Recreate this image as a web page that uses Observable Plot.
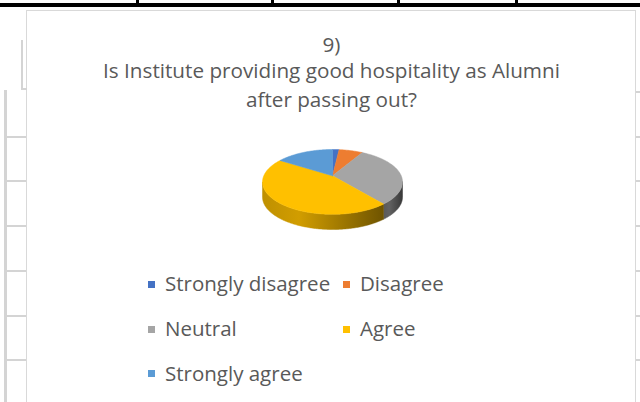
<!DOCTYPE html>
<html>
<head>
<meta charset="utf-8">
<script src="https://cdn.jsdelivr.net/npm/d3@7"></script>
<script src="https://cdn.jsdelivr.net/npm/@observablehq/plot@0.6"></script>
<style>
  html, body { margin: 0; padding: 0; background: #fff; }
  #root { position: relative; width: 640px; height: 402px; overflow: hidden; background: #fff;
          font-family: "Open Sans", "Noto Sans", sans-serif; color: #595959; }
  .abs { position: absolute; }
  .ln { position: absolute; background: #d4d4d4; }
  .title { position: absolute; left: 26px; width: 611px; text-align: center; font-size: 20.7px; line-height: 1; white-space: nowrap; }
  .leg { position: absolute; font-size: 20.5px; line-height: 1; white-space: nowrap; }
  .mk { position: absolute; width: 7px; height: 7px; }
  #pie { position: absolute; left: 0; top: 140px; }
</style>
</head>
<body>
<div id="root">
  <!-- spreadsheet decoration -->
  <div class="abs" style="left:0;top:3px;width:640px;height:4px;background:#000"></div>
  <div class="abs" style="left:136px;top:0;width:3px;height:5px;background:#000"></div>
  <div class="abs" style="left:271px;top:0;width:3px;height:5px;background:#000"></div>
  <div class="abs" style="left:397px;top:0;width:3px;height:5px;background:#000"></div>
  <div class="abs" style="left:515px;top:0;width:3px;height:5px;background:#000"></div>
  <div class="abs" style="left:26px;top:10px;width:610px;height:420px;border:1.5px solid #d9d9d9;box-sizing:border-box"></div>
  <div class="ln" style="left:21px;top:40px;width:2px;height:50px"></div>
  <div class="ln" style="left:21px;top:88px;width:6px;height:2px"></div>
  <div class="ln" style="left:4px;top:90px;width:3px;height:320px"></div>
  <div id="titles"></div>
  <div id="pie"></div>
  <div id="legend"></div>
</div>
<script>
// ---- data ----
const titleLines = ["9)", "Is Institute providing good hospitality as Alumni", "after passing out?"];
const categories = ["Strongly disagree", "Disagree", "Neutral", "Agree", "Strongly agree"];
const values = [1.5, 5.5, 30, 49.5, 13.5];
const colors = ["#4472C4", "#ED7D31", "#A5A5A5", "#FFC000", "#5B9BD5"];
const sideShades = [
  ["#2f5597", "#1f3864"],
  ["#c55a11", "#843c0c"],
  ["#5a5a5a", "#383838"],
  ["#bf9000", "#6f5400"],
  ["#2e75b6", "#1f4e79"]
];

// ---- spreadsheet gridlines (decoration) ----
const root = document.getElementById("root");
[136, 180, 225, 270, 315, 359].forEach(y => {
  const a = document.createElement("div"); a.className = "ln";
  a.style.cssText = `left:5px;top:${y}px;width:21px;height:2px`; root.appendChild(a);
});
[91, 136, 180, 225, 270, 315, 359].forEach(y => {
  const a = document.createElement("div"); a.className = "ln";
  a.style.cssText = `left:636px;top:${y}px;width:4px;height:2px`; root.appendChild(a);
});

// ---- titles ----
const titleTops = [33.6, 60.1, 88.6];
const tdiv = document.getElementById("titles");
titleLines.forEach((t, i) => {
  const d = document.createElement("div"); d.className = "title";
  d.style.top = titleTops[i] + "px"; d.textContent = t; tdiv.appendChild(d);
});

// ---- pie geometry (3-D look: apex lifted slightly for perspective) ----
const RX = 70, RY = 32, DEPTH = 15, APEX = 6;
const arcs = d3.pie().sort(null).startAngle(0).endAngle(2 * Math.PI)(values);
function arcPts(a0, a1, dy) {
  const n = Math.max(2, Math.ceil((a1 - a0) / (Math.PI / 180)));
  return d3.range(n + 1).map(k => {
    const t = a0 + (a1 - a0) * k / n;
    return {x: RX * Math.sin(t), y: RY * Math.cos(t) - dy};
  });
}
const tops = [];
arcs.forEach((a, i) => {
  const pts = [{x: 0, y: APEX}, ...arcPts(a.startAngle, a.endAngle, 0), {x: 0, y: APEX}];
  pts.forEach(p => tops.push({...p, key: categories[i]}));
});
const sides = [];
arcs.forEach((a, i) => {
  const s0 = Math.max(a.startAngle, Math.PI / 2), s1 = Math.min(a.endAngle, 3 * Math.PI / 2);
  if (s0 < s1) {
    const up = arcPts(s0, s1, 0);
    const down = arcPts(s0, s1, DEPTH).reverse();
    sides.push({i, pts: [...up, ...down, up[0]]});
  }
});

const plot = Plot.plot({
  width: 640, height: 100,
  marginLeft: 262, marginRight: 238, marginTop: 9, marginBottom: 11,
  x: {domain: [-RX, RX], axis: null},
  y: {domain: [-(RY + DEPTH), RY], axis: null},
  color: {domain: categories, range: colors},
  style: {background: "transparent", overflow: "visible"},
  marks: [
    ...sides.map(s => Plot.line(s.pts, {x: "x", y: "y", fill: `url(#side${s.i})`, stroke: `url(#side${s.i})`, strokeWidth: 0.5})),
    Plot.line(tops, {x: "x", y: "y", z: "key", fill: "key", stroke: "key", strokeWidth: 0.5})
  ]
});
const defs = d3.select(plot).insert("defs", ":first-child");
sides.forEach(s => {
  const [c1, c2] = sideShades[s.i];
  const g = defs.append("linearGradient").attr("id", "side" + s.i).attr("x1", 0).attr("x2", 1).attr("y1", 0).attr("y2", 0);
  g.append("stop").attr("offset", "0%").attr("stop-color", c1);
  g.append("stop").attr("offset", "30%").attr("stop-color", d3.color(c1).brighter(0.25).formatHex());
  g.append("stop").attr("offset", "100%").attr("stop-color", c2);
});
document.getElementById("pie").appendChild(plot);

// ---- legend ----
const legPos = [
  {mx: 148, tx: 165, row: 0}, {mx: 343, tx: 360, row: 0},
  {mx: 148, tx: 165, row: 1}, {mx: 343, tx: 360, row: 1},
  {mx: 148, tx: 165, row: 2}
];
const rowCenters = [284, 329, 373.5];
const ldiv = document.getElementById("legend");
categories.forEach((c, i) => {
  const p = legPos[i];
  const m = document.createElement("div"); m.className = "mk";
  m.style.cssText = `left:${p.mx}px;top:${rowCenters[p.row] - 3.5}px;background:${colors[i]}`;
  ldiv.appendChild(m);
  const t = document.createElement("div"); t.className = "leg";
  t.style.cssText = `left:${p.tx}px;top:${rowCenters[p.row] + 7.5 - 18.2}px`;
  t.textContent = c; ldiv.appendChild(t);
});
</script>
</body>
</html>
